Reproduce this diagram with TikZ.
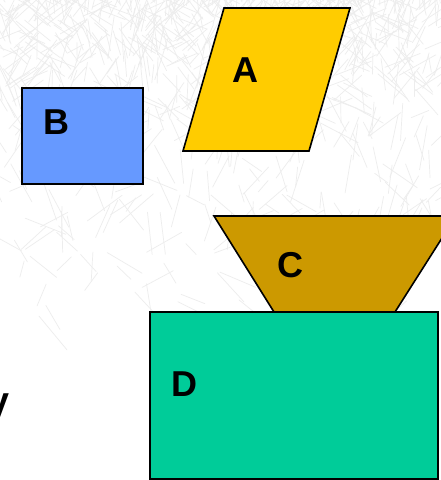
\documentclass[tikz,border=0pt]{standalone}
\usepackage{fontspec}
\setmainfont{Liberation Sans}
\usetikzlibrary{calc}
\begin{document}
\begin{tikzpicture}[x=1pt,y=-1pt,
  shapeline/.style={draw=black,line width=1.6pt,line join=miter},
  lbl/.style={font=\fontsize{36}{36}\selectfont\bfseries,inner sep=0pt,text=black},
  needle/.style={draw=black!7,line width=0.7pt,line cap=round}]
\useasboundingbox (0,0) rectangle (441,480);
\clip (0,0) rectangle (441,480);
\fill[white] (0,0) rectangle (441,480);
% faint pine background
\pgfmathsetseed{7}
\foreach \k in {1,...,900}{
  \pgfmathsetmacro{\px}{rnd*441}
  \pgfmathsetmacro{\py}{rnd*rnd*360}
  \pgfmathsetmacro{\ang}{200+rnd*140}
  \pgfmathsetmacro{\len}{15+rnd*30}
  \draw[needle] (\px,\py) -- ++(\ang:\len);
}
% shapes
\path[shapeline,fill={rgb,255:red,255;green,204;blue,0}] (224,8) -- (350,8) -- (309,151) -- (183,151) -- cycle;
\path[shapeline,fill={rgb,255:red,102;green,153;blue,255}] (22,88) rectangle (143,184);
\path[shapeline,fill={rgb,255:red,204;green,153;blue,0}] (214,216) -- (456,216) -- (395,312) -- (274,312) -- cycle;
\path[shapeline,fill={rgb,255:red,0;green,204;blue,153}] (150,312) rectangle (438,479);
% labels
\node[lbl] (la) at (245,70) {A};
\node[lbl] (lb) at (56,122) {B};
\node[lbl] (lc) at (290,265) {C};
\node[lbl] (ld) at (184,384) {D};
\node[lbl,anchor=base west] (lv) at (-15,418) {V};
\end{tikzpicture}
\end{document}
